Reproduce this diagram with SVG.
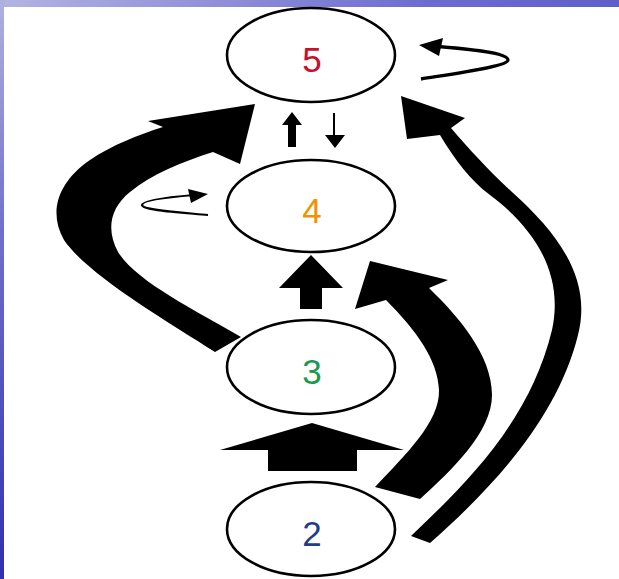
<svg xmlns="http://www.w3.org/2000/svg" width="619" height="579" viewBox="0 0 619 579">
  <defs>
    <linearGradient id="frameGrad" x1="0" y1="0" x2="1" y2="1">
      <stop offset="0" stop-color="#b4b4e2"/>
      <stop offset="0.35" stop-color="#6c6cd0"/>
      <stop offset="1" stop-color="#3434b4"/>
    </linearGradient>
    <linearGradient id="sideGrad" x1="0" y1="0" x2="0" y2="1">
      <stop offset="0" stop-color="#b0b0e0"/>
      <stop offset="0.4" stop-color="#7070cc"/>
      <stop offset="1" stop-color="#3030b0"/>
    </linearGradient>
    <style>
      .node ellipse { fill: #ffffff; stroke: #000000; stroke-width: 2.6; }
      .node text { font-family: "Liberation Sans", Arial, sans-serif; font-size: 35px; text-anchor: middle; }
      .solid { fill: #000000; stroke: none; }
      .line { fill: none; stroke: #000000; stroke-linecap: butt; }
    </style>
  </defs>

  <!-- slide frame -->
  <rect x="0" y="0" width="619" height="579" fill="url(#frameGrad)"/>
  <rect x="0" y="0" width="5" height="579" fill="url(#sideGrad)"/>
  <rect x="4" y="7" width="615" height="572" fill="#ffffff"/>

  <g id="connectors">
    <!-- 3 -> 5, broad curve on the left -->
    <path class="solid" d="M215,352 C165,320 88,275 64,240 C48,212 58,182 90,160 C112,145 138,135 163,127
                           L148,121 L255,104 L240,164 L213,152
                           C182,162 152,174 130,192 C110,208 106,230 118,252 C137,282 195,310 241,337 Z"/>
    <!-- 2 -> 4, broad curve on the right -->
    <path class="solid" d="M375,487 C405,455 440,422 439,390 C438,360 416,330 386,300
                           L355,309 L370,261 L448,280 L429,288
                           C458,316 492,355 492,395 C492,432 452,470 420,499 Z"/>
    <!-- 2 -> 5, long curve on the right -->
    <path class="solid" d="M411,536 C470,480 530,420 552,330 C565,270 530,225 490,195 C470,180 455,160 440,135
                           L407,139 L401,96 L465,118 L451,128
                           C470,150 488,170 512,192 C560,235 592,280 578,335 C557,420 490,490 430,543 Z"/>
    <!-- 3 -> 4 -->
    <polygon class="solid" points="300,309 322,309 322,288 343,288 311,255 279,288 300,288"/>
    <!-- 2 -> 3 -->
    <polygon class="solid" points="268,471 357,471 357,450 404,450 312,423 220,450 268,450"/>
    <!-- 4 -> 5 -->
    <polygon class="solid" points="288,147 296,147 296,125 302,125 292,112 282,125 288,125"/>
    <!-- 5 -> 4 -->
    <path class="line" stroke-width="2" d="M334,113 L334,137"/>
    <polygon class="solid" points="325,135 345,135 335,148"/>
    <!-- 5 -> 5 -->
    <path class="line" stroke-width="3.3" d="M421,79 C465,72 508,66 508,60 C508,53 470,49 432,46"/>
    <polygon class="solid" points="419,45 443,38 439,56"/>
    <!-- 4 -> 4 -->
    <path class="line" stroke-width="2.2" d="M208,215 C175,212 142,210 142,205 C142,200 170,197 194,195"/>
    <polygon class="solid" points="208,194 188,189 191,203"/>
  </g>

  <g id="node5" class="node">
    <ellipse cx="311" cy="55" rx="84" ry="47"/>
    <text x="312" y="72" fill="#c8102e">5</text>
  </g>
  <g id="node4" class="node">
    <ellipse cx="311" cy="206" rx="84" ry="46"/>
    <text x="312" y="223" fill="#f39200">4</text>
  </g>
  <g id="node3" class="node">
    <ellipse cx="311" cy="367" rx="84" ry="47"/>
    <text x="312" y="384" fill="#1a9a50">3</text>
  </g>
  <g id="node2" class="node">
    <ellipse cx="311" cy="529" rx="84" ry="47"/>
    <text x="312" y="546" fill="#1f3c88">2</text>
  </g>
</svg>
